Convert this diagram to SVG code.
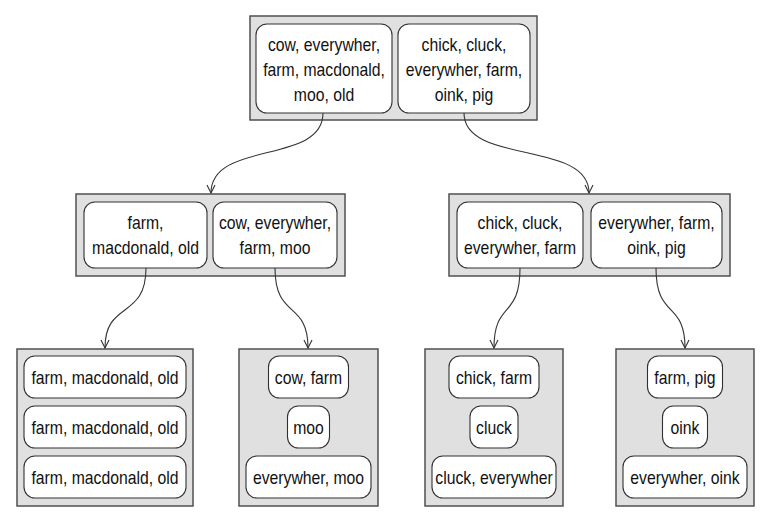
<svg xmlns="http://www.w3.org/2000/svg" width="772" height="525" viewBox="0 0 772 525">
<style>
.outer{fill:#e0e0e0;stroke:#505050;stroke-width:1.5}
.inner{fill:#fff;stroke:#303030;stroke-width:1.1}
text{font-family:"Liberation Sans",Arial,sans-serif;font-size:19px;fill:#111;text-anchor:middle}
.conn{fill:none;stroke:#333;stroke-width:1.1;marker-end:url(#arr)}
</style>
<defs>
<marker id="arr" viewBox="0 0 10 10" refX="9" refY="5" markerWidth="10" markerHeight="10" markerUnits="userSpaceOnUse" orient="auto">
<path d="M1,1 L9,5 L1,9" fill="none" stroke="#333" stroke-width="1.1"/>
</marker>
</defs>
<rect width="772" height="525" fill="#fff"/>
<g id="root">
<rect class="outer" x="250" y="16" width="287" height="104"/>
<rect class="inner" x="256" y="24" width="136" height="89" rx="11"/>
<text transform="translate(324,50.5) scale(0.83,1)">cow, everywher,</text>
<text transform="translate(324,75.5) scale(0.83,1)">farm, macdonald,</text>
<text transform="translate(324,100.5) scale(0.83,1)">moo, old</text>
<rect class="inner" x="398" y="24" width="132" height="89" rx="11"/>
<text transform="translate(464,50.5) scale(0.83,1)">chick, cluck,</text>
<text transform="translate(464,75.5) scale(0.83,1)">everywher, farm,</text>
<text transform="translate(464,100.5) scale(0.83,1)">oink, pig</text>
</g>
<g id="midLeft">
<rect class="outer" x="76" y="194" width="269" height="82"/>
<rect class="inner" x="84" y="202" width="123" height="66" rx="11"/>
<text transform="translate(145.5,229) scale(0.83,1)">farm,</text>
<text transform="translate(145.5,254) scale(0.83,1)">macdonald, old</text>
<rect class="inner" x="213" y="202" width="124" height="66" rx="11"/>
<text transform="translate(275,229) scale(0.83,1)">cow, everywher,</text>
<text transform="translate(275,254) scale(0.83,1)">farm, moo</text>
</g>
<g id="midRight">
<rect class="outer" x="449" y="194" width="281" height="82"/>
<rect class="inner" x="457" y="202" width="126" height="66" rx="11"/>
<text transform="translate(520,229) scale(0.83,1)">chick, cluck,</text>
<text transform="translate(520,254) scale(0.83,1)">everywher, farm</text>
<rect class="inner" x="591" y="202" width="131" height="66" rx="11"/>
<text transform="translate(656.5,229) scale(0.83,1)">everywher, farm,</text>
<text transform="translate(656.5,254) scale(0.83,1)">oink, pig</text>
</g>
<g id="leaf1">
<rect class="outer" x="17" y="349" width="176" height="157"/>
<rect class="inner" x="24" y="356" width="162" height="42" rx="11"/>
<text transform="translate(105,383.5) scale(0.83,1)">farm, macdonald, old</text>
<rect class="inner" x="24" y="406" width="162" height="42" rx="11"/>
<text transform="translate(105,433.5) scale(0.83,1)">farm, macdonald, old</text>
<rect class="inner" x="24" y="456" width="162" height="42" rx="11"/>
<text transform="translate(105,483.5) scale(0.83,1)">farm, macdonald, old</text>
</g>
<g id="leaf2">
<rect class="outer" x="239" y="349" width="139" height="157"/>
<rect class="inner" x="268.5" y="356" width="80" height="42" rx="11"/>
<text transform="translate(308.5,383.5) scale(0.83,1)">cow, farm</text>
<rect class="inner" x="287.5" y="406" width="42" height="42" rx="11"/>
<text transform="translate(308.5,433.5) scale(0.83,1)">moo</text>
<rect class="inner" x="246" y="456" width="125" height="42" rx="11"/>
<text transform="translate(308.5,483.5) scale(0.83,1)">everywher, moo</text>
</g>
<g id="leaf3">
<rect class="outer" x="425" y="349" width="138" height="157"/>
<rect class="inner" x="449" y="356" width="90" height="42" rx="11"/>
<text transform="translate(494,383.5) scale(0.83,1)">chick, farm</text>
<rect class="inner" x="470" y="406" width="48" height="42" rx="11"/>
<text transform="translate(494,433.5) scale(0.83,1)">cluck</text>
<rect class="inner" x="432" y="456" width="124" height="42" rx="11"/>
<text transform="translate(494,483.5) scale(0.83,1)">cluck, everywher</text>
</g>
<g id="leaf4">
<rect class="outer" x="616" y="349" width="138" height="157"/>
<rect class="inner" x="647.5" y="356" width="75" height="42" rx="11"/>
<text transform="translate(685,383.5) scale(0.83,1)">farm, pig</text>
<rect class="inner" x="662.5" y="406" width="45" height="42" rx="11"/>
<text transform="translate(685,433.5) scale(0.83,1)">oink</text>
<rect class="inner" x="623" y="456" width="124" height="42" rx="11"/>
<text transform="translate(685,483.5) scale(0.83,1)">everywher, oink</text>
</g>
<g id="connectors">
<path class="conn" d="M323,113 C323,165 211,140 211,193"/>
<path class="conn" d="M464,113 C464,165 589,140 589,193"/>
<path class="conn" d="M146,268 C146,320 105,300 105,348"/>
<path class="conn" d="M275,268 C275,320 308,300 308,348"/>
<path class="conn" d="M520,268 C520,320 494,300 494,348"/>
<path class="conn" d="M656,268 C656,320 685,300 685,348"/>
</g>
</svg>
